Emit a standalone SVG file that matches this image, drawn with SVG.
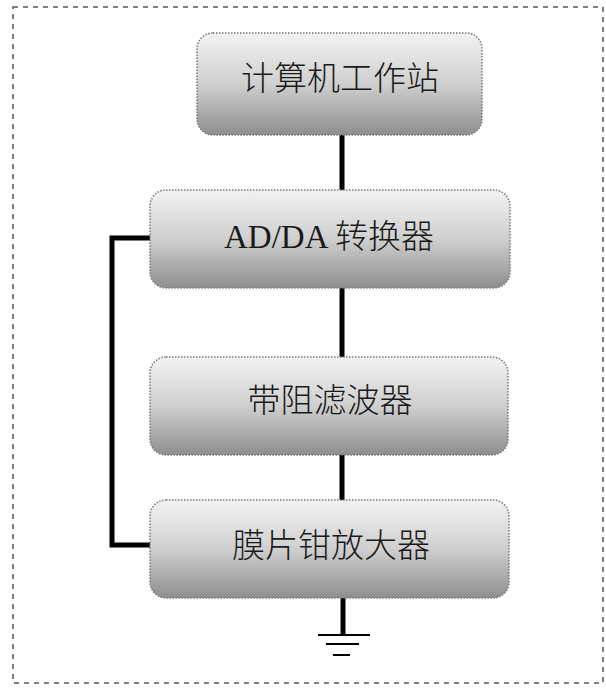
<svg xmlns="http://www.w3.org/2000/svg" width="606" height="688" viewBox="0 0 606 688">
<defs>
<linearGradient id="g" x1="0" y1="0" x2="0" y2="1">
<stop offset="0" stop-color="#f2f2f2"/>
<stop offset="0.5" stop-color="#cfcfcf"/>
<stop offset="1" stop-color="#8e8e8e"/>
</linearGradient>
<style>
.box{fill:url(#g);stroke:#777;stroke-width:1.5;stroke-dasharray:1.5 1.5}
.lbl{font-family:"Liberation Serif","Noto Sans CJK SC",serif;font-size:33px;font-weight:300;fill:#1a1a1a;text-anchor:middle}
.wire{fill:none;stroke:#000;stroke-width:5}
.gnd{stroke:#000;stroke-width:2}
.frame{fill:none;stroke:#555;stroke-width:1.5;stroke-dasharray:5 5}
</style>
</defs>
<rect class="frame" x="13" y="7" width="590" height="676"/>
<g id="connectors">
<line class="wire" x1="342" y1="135" x2="342" y2="190"/>
<line class="wire" x1="342" y1="288" x2="342" y2="357"/>
<line class="wire" x1="342" y1="455" x2="342" y2="500"/>
<polyline class="wire" points="150,238 112,238 112,545 150,545"/>
<line class="wire" x1="343" y1="598" x2="343" y2="635"/>
<line class="gnd" x1="318" y1="635" x2="370" y2="635"/>
<line class="gnd" x1="326" y1="644" x2="359" y2="644"/>
<line class="gnd" x1="333" y1="655" x2="350" y2="655"/>
</g>
<g id="n1">
<rect class="box" x="197" y="33" width="285" height="102" rx="16"/>
<text class="lbl" x="340" y="90">计算机工作站</text>
</g>
<g id="n2">
<rect class="box" x="150" y="190" width="360" height="98" rx="16"/>
<text class="lbl" x="329" y="248">AD/DA 转换器</text>
</g>
<g id="n3">
<rect class="box" x="150" y="357" width="358" height="98" rx="16"/>
<text class="lbl" x="330" y="412">带阻滤波器</text>
</g>
<g id="n4">
<rect class="box" x="150" y="500" width="359" height="98" rx="16"/>
<text class="lbl" x="331" y="557">膜片钳放大器</text>
</g>
</svg>
